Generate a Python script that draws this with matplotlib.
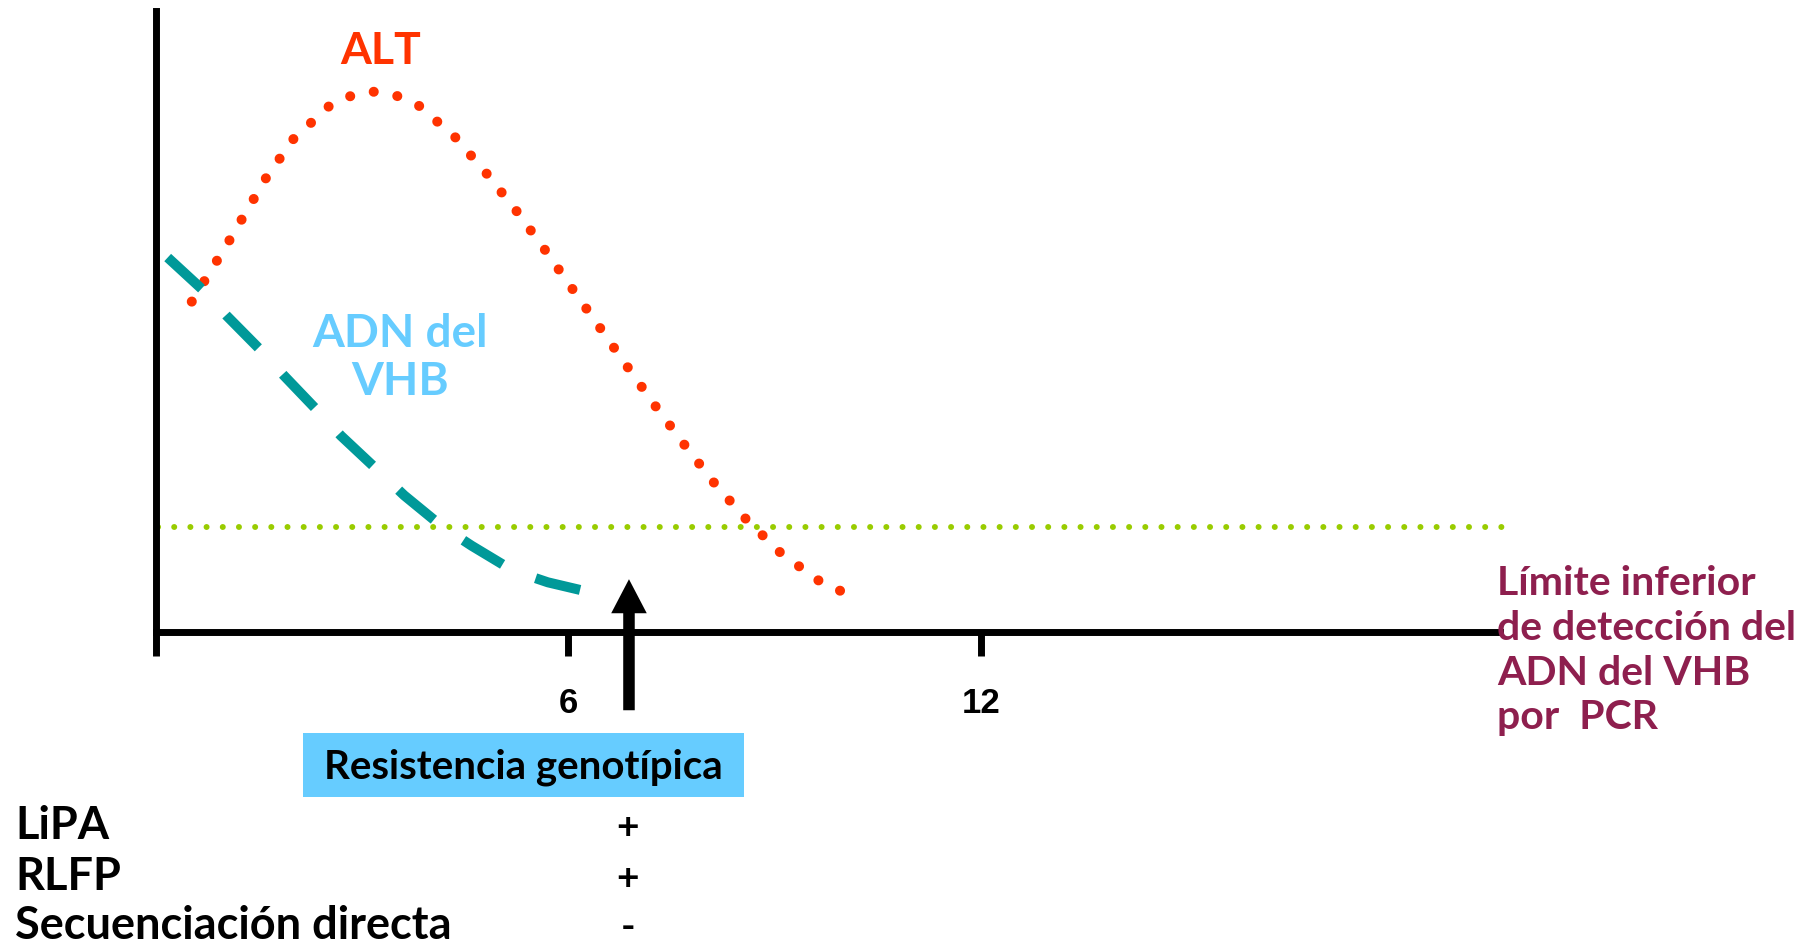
import numpy as np
import matplotlib.pyplot as plt
from matplotlib.patches import Rectangle

# curves (x in months, y in arbitrary level 0-100)
alt_x = [0.52, 1.07, 1.60, 2.00, 2.52, 2.83, 3.17, 3.51, 3.83, 4.35, 4.81, 5.25,
         5.66, 6.06, 6.47, 6.87, 7.27, 7.69, 8.12, 8.58, 9.09, 9.65, 9.96]
alt_y = [53.2, 63.1, 73.1, 79.4, 84.7, 86.3, 87.0, 86.3, 84.7, 79.7, 73.8, 67.7,
         61.5, 55.2, 48.8, 42.5, 36.3, 30.1, 24.0, 18.2, 12.7, 8.2, 6.6]

dna_x = [0.17, 0.68, 1.03, 1.53, 1.86, 2.37, 2.69, 3.23, 3.61, 4.15, 4.59, 5.19, 5.70, 6.35]
dna_y = [60.3, 55.1, 50.9, 45.3, 41.3, 35.4, 31.6, 26.0, 22.0, 17.1, 13.9, 9.9, 8.0, 6.3]

limit_x = [0.03, 19.68]
limit_y = [16.9, 16.9]

arrow_x = 6.88
arrow_y = [-12.6, 8.5]

month_ticks = [0, 6, 12]
month_labels = ["", "6", "12"]

methods = ["LiPA", "RLFP", "Secuenciación directa"]
results = ["+", "+", "-"]

FONT = "Lato"
W, H = 1813, 945

def fx(px):
    return px / W

def fy(py):
    return 1 - py / H

fig = plt.figure(figsize=(W / 100, H / 100), dpi=100)
ax = fig.add_axes([fx(156), fy(633), fx(1500) - fx(156), fy(12) - fy(633)])
ax.set_xlim(0, 19.55)
ax.set_ylim(0, 100)

for s in ["top", "right"]:
    ax.spines[s].set_visible(False)
for s in ["left", "bottom"]:
    ax.spines[s].set_linewidth(5)
ax.set_yticks([])
ax.set_xticks(month_ticks)
ax.set_xticklabels(month_labels, fontsize=25, fontweight="bold", family="Liberation Sans")
ax.tick_params(axis="x", length=17, width=5, direction="out", pad=22)

# spread the ALT dots so that one lands on each end of the curve
pts = ax.transData.transform(np.column_stack([alt_x, alt_y]))
alt_len = np.sum(np.hypot(*np.diff(pts, axis=0).T))
n_dots = round(alt_len / 24)
alt_gap = alt_len / n_dots / 10 - 0.012

ax.plot(alt_x, alt_y, color="#ff3300", lw=7.2, linestyle=(0, (0.01, alt_gap)),
        dash_capstyle="round", clip_on=False)
ax.plot(dna_x, dna_y, color="#009999", lw=7.2, linestyle=(0, (4.6, 3.6)),
        dash_capstyle="butt", clip_on=False)
ax.plot(limit_x, limit_y, color="#99cc00", lw=4.3, linestyle=(0, (0.01, 2.7)),
        dash_capstyle="round", clip_on=False)

ax.annotate("", xy=(arrow_x, arrow_y[1]), xytext=(arrow_x, arrow_y[0]),
            arrowprops=dict(facecolor="black", edgecolor="none", width=8.3,
                            headwidth=25.6, headlength=24.5, shrink=0),
            annotation_clip=False)

fig.text(fx(381), fy(51), "ALT", color="#ff3300", fontsize=32, fontweight="bold",
         family=FONT, ha="center", va="center")
fig.text(fx(400), fy(358), "ADN del\nVHB", color="#66ccff", fontsize=33, fontweight="bold",
         family=FONT, ha="center", va="center", linespacing=1.2)
fig.text(fx(1497), fy(565), "Límite inferior\nde detección del\nADN del VHB\npor  PCR",
         color="#8e1f4e", fontsize=29.5, fontweight="bold", family=FONT,
         ha="left", va="top", linespacing=1.26)

fig.add_artist(Rectangle((fx(303), fy(798)), fx(743.5) - fx(303), fy(734) - fy(798),
                         transform=fig.transFigure, facecolor="#66ccff", edgecolor="none"))
fig.text(fx(523), fy(767), "Resistencia genotípica", color="black", fontsize=29,
         fontweight="bold", family=FONT, ha="center", va="center")

row_y = [826, 877, 926]
for name, res, py in zip(methods, results, row_y):
    fig.text(fx(15), fy(py), name, color="black", fontsize=32.5, fontweight="bold",
             family=FONT, ha="left", va="center")
    fig.text(fx(628), fy(py + 2), res, color="black", fontsize=28, fontweight="bold",
             family=FONT, ha="center", va="center")

fig.savefig("out.png", dpi=100)
